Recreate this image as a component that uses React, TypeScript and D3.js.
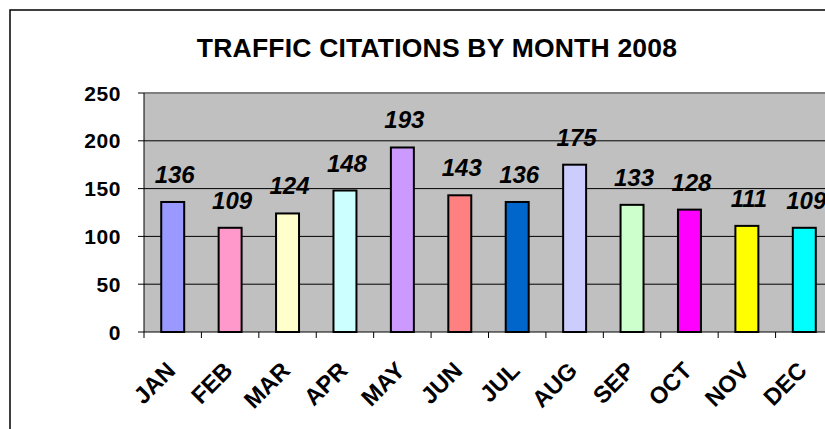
import React from "react";
import * as d3 from "d3";

const months = ["JAN", "FEB", "MAR", "APR", "MAY", "JUN", "JUL", "AUG", "SEP", "OCT", "NOV", "DEC"];
const citations = [136, 109, 124, 148, 193, 143, 136, 175, 133, 128, 111, 109];
const barColors = ["#9999FF", "#FF99CC", "#FFFFCC", "#CCFFFF", "#CC99FF", "#FF8080", "#0066CC", "#CCCCFF", "#CCFFCC", "#FF00FF", "#FFFF00", "#00FFFF"];
const yTicks = [0, 50, 100, 150, 200, 250];
const title = "TRAFFIC CITATIONS BY MONTH 2008";

const W = 825;
const H = 429;
const plot = { left: 144, right: 833, top: 93, bottom: 332 };
const FONT = "Arial, 'Liberation Sans', sans-serif";

export default function App() {
  const x = d3
    .scaleBand<string>()
    .domain(months)
    .range([plot.left, plot.right])
    .paddingInner(0.6)
    .paddingOuter(0.3);
  const y = d3.scaleLinear().domain([0, 250]).range([plot.bottom, plot.top]);
  const step = x.step();
  const boundaries = d3.range(months.length + 1).map((i) => plot.left + i * step);

  return (
    <svg
      width={W}
      height={H}
      style={{ position: "fixed", left: 0, top: 0, background: "#fff" }}
    >
      <rect x={0} y={0} width={W} height={H} fill="#fff" />
      {/* chart border */}
      <rect x={10} y={10} width={W + 20} height={H + 20} fill="none" stroke="#000" strokeWidth={1.5} />
      {/* title */}
      <text x={437} y={57} textAnchor="middle" fontFamily={FONT} fontWeight="bold" fontSize={26.5} letterSpacing={0.2}>
        {title}
      </text>
      {/* plot background */}
      <rect
        x={plot.left}
        y={plot.top}
        width={plot.right - plot.left}
        height={plot.bottom - plot.top}
        fill="#C0C0C0"
      />
      <line x1={plot.left} x2={plot.right} y1={plot.top} y2={plot.top} stroke="#808080" strokeWidth={2} />
      {/* gridlines */}
      {yTicks
        .filter((t) => t > 0 && t < 250)
        .map((t) => (
          <line key={"g" + t} x1={plot.left} x2={plot.right} y1={y(t)} y2={y(t)} stroke="#000" strokeWidth={1} />
        ))}
      {/* y axis */}
      <line x1={plot.left} x2={plot.left} y1={plot.top} y2={plot.bottom} stroke="#000" strokeWidth={1} />
      {yTicks.map((t) => (
        <g key={"y" + t}>
          <line x1={plot.left - 6} x2={plot.left} y1={y(t)} y2={y(t)} stroke="#000" strokeWidth={1} />
          <text
            x={121}
            y={y(t)}
            dy="0.36em"
            textAnchor="end"
            fontFamily={FONT}
            fontWeight="bold"
            fontSize={21}
            letterSpacing={0.6}
          >
            {t}
          </text>
        </g>
      ))}
      {/* bars */}
      {months.map((m, i) => (
        <rect
          key={"b" + m}
          x={x(m)}
          y={y(citations[i])}
          width={x.bandwidth()}
          height={y(0) - y(citations[i])}
          fill={barColors[i]}
          stroke="#000"
          strokeWidth={2}
        />
      ))}
      {/* data labels */}
      {months.map((m, i) => (
        <text
          key={"d" + m}
          x={(x(m) as number) + x.bandwidth() / 2 + 2}
          y={y(citations[i]) - 19}
          textAnchor="middle"
          fontFamily={FONT}
          fontWeight="bold"
          fontStyle="italic"
          fontSize={24}
        >
          {citations[i]}
        </text>
      ))}
      {/* x axis */}
      <line x1={plot.left} x2={plot.right} y1={plot.bottom} y2={plot.bottom} stroke="#000" strokeWidth={1} />
      {boundaries.map((bx, i) => (
        <line key={"t" + i} x1={bx} x2={bx} y1={plot.bottom} y2={plot.bottom + 6} stroke="#000" strokeWidth={1} />
      ))}
      {months.map((m) => {
        const cx = (x(m) as number) + x.bandwidth() / 2;
        return (
          <text
            key={"x" + m}
            transform={`translate(${cx + 4},${plot.bottom + 40}) rotate(-45)`}
            textAnchor="end"
            fontFamily={FONT}
            fontWeight="bold"
            fontSize={23.5}
          >
            {m}
          </text>
        );
      })}
    </svg>
  );
}
